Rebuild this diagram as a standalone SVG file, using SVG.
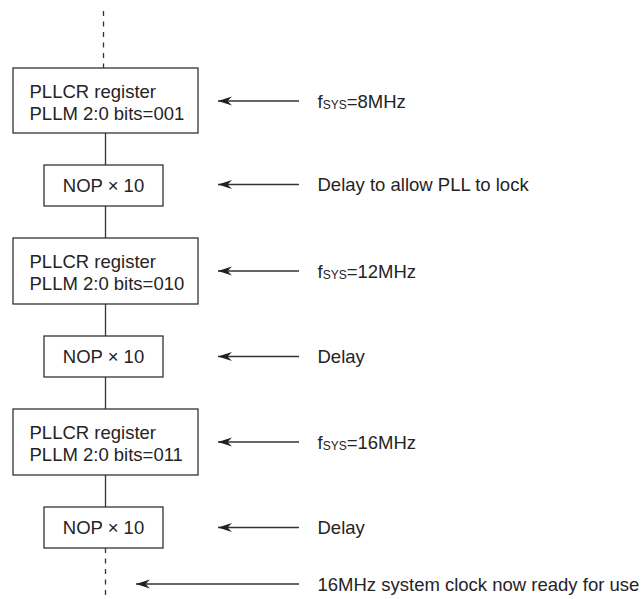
<svg xmlns="http://www.w3.org/2000/svg" width="642" height="599" viewBox="0 0 642 599">
  <defs>
    <style>
      .box { fill: #ffffff; stroke: #333333; stroke-width: 1.3; }
      .link { fill: none; stroke: #333333; stroke-width: 1.3; }
      .dash { fill: none; stroke: #333333; stroke-width: 1.3; stroke-dasharray: 5 5.5; }
      .arrow { fill: none; stroke: #333333; stroke-width: 1.4; marker-start: url(#head); }
      .txt { font-family: "Liberation Sans", Arial, sans-serif; font-size: 18.5px; fill: #262324; }
      .sub { font-size: 12px; }
      .mid { text-anchor: middle; }
    </style>
    <marker id="head" viewBox="0 0 14 10" refX="0" refY="5" markerWidth="14" markerHeight="10" markerUnits="userSpaceOnUse" orient="auto">
      <path d="M0,5 L14,0.5 L9.5,5 L14,9.5 Z" fill="#231f20"/>
    </marker>
  </defs>

  <rect width="642" height="599" fill="#ffffff"/>

  <!-- connectors between steps -->
  <g id="connectors">
    <line class="dash" x1="103.5" y1="11" x2="103.5" y2="68"/>
    <line class="link" x1="105.5" y1="133" x2="105.5" y2="165"/>
    <line class="link" x1="105.5" y1="206" x2="105.5" y2="238"/>
    <line class="link" x1="105.5" y1="304" x2="105.5" y2="336"/>
    <line class="link" x1="105.5" y1="377" x2="105.5" y2="409"/>
    <line class="link" x1="105.5" y1="475" x2="105.5" y2="507"/>
    <line class="dash" x1="105.5" y1="548" x2="105.5" y2="599"/>

    <!-- annotation arrows -->
    <line class="arrow" x1="218" y1="101" x2="299" y2="101"/>
    <line class="arrow" x1="218" y1="184.5" x2="299" y2="184.5"/>
    <line class="arrow" x1="218" y1="271" x2="299" y2="271"/>
    <line class="arrow" x1="218" y1="356.5" x2="299" y2="356.5"/>
    <line class="arrow" x1="218" y1="442" x2="299" y2="442"/>
    <line class="arrow" x1="218" y1="527.5" x2="299" y2="527.5"/>
    <line class="arrow" x1="136" y1="584" x2="299" y2="584"/>
  </g>

  <!-- steps -->
  <g id="pllcr-001">
    <rect class="box" x="13" y="68" width="185" height="65"/>
    <text class="txt" x="29.5" y="98">PLLCR register</text>
    <text class="txt" x="29.5" y="120">PLLM 2:0 bits=001</text>
  </g>
  <g id="nop-1">
    <rect class="box" x="44" y="165" width="119" height="41"/>
    <text class="txt mid" x="103.5" y="191.5">NOP × 10</text>
  </g>
  <g id="pllcr-010">
    <rect class="box" x="13" y="238" width="185" height="66"/>
    <text class="txt" x="29.5" y="268">PLLCR register</text>
    <text class="txt" x="29.5" y="290">PLLM 2:0 bits=010</text>
  </g>
  <g id="nop-2">
    <rect class="box" x="44" y="336" width="119" height="41"/>
    <text class="txt mid" x="103.5" y="362.5">NOP × 10</text>
  </g>
  <g id="pllcr-011">
    <rect class="box" x="13" y="409" width="185" height="66"/>
    <text class="txt" x="29.5" y="439">PLLCR register</text>
    <text class="txt" x="29.5" y="461">PLLM 2:0 bits=011</text>
  </g>
  <g id="nop-3">
    <rect class="box" x="44" y="507" width="119" height="41"/>
    <text class="txt mid" x="103.5" y="533.5">NOP × 10</text>
  </g>

  <!-- annotations -->
  <g id="notes">
    <text class="txt" x="317.5" y="107.5">f<tspan class="sub" dy="1.5">SYS</tspan><tspan dy="-1.5">=8MHz</tspan></text>
    <text class="txt" x="317.5" y="191">Delay to allow PLL to lock</text>
    <text class="txt" x="317.5" y="277.5">f<tspan class="sub" dy="1.5">SYS</tspan><tspan dy="-1.5">=12MHz</tspan></text>
    <text class="txt" x="317.5" y="363">Delay</text>
    <text class="txt" x="317.5" y="448.5">f<tspan class="sub" dy="1.5">SYS</tspan><tspan dy="-1.5">=16MHz</tspan></text>
    <text class="txt" x="317.5" y="534">Delay</text>
    <text class="txt" x="317.5" y="590.5">16MHz system clock now ready for use</text>
  </g>
</svg>
